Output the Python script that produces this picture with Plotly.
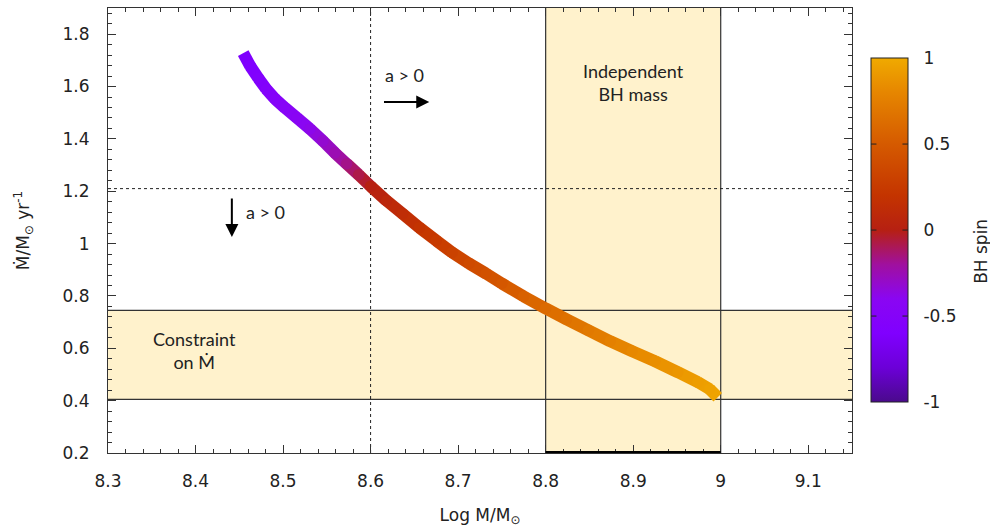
import plotly.graph_objects as go
from plotly.colors import sample_colorscale

# Curve
log_mass = [8.4545, 8.4625, 8.4716, 8.4807, 8.4909, 8.5023, 8.5159, 8.5307, 8.5455, 8.5591,
            8.5727, 8.5864, 8.6000, 8.6182, 8.6364, 8.6557, 8.6750, 8.6932, 8.7125, 8.7318,
            8.7500, 8.7750, 8.8000, 8.8239, 8.8489, 8.8739, 8.8989, 8.9250, 8.9511, 8.9739,
            8.9875, 8.9966]
mdot = [1.7276, 1.6781, 1.6324, 1.5905, 1.5524, 1.5181, 1.4800, 1.4381, 1.3924, 1.3467,
        1.3048, 1.2629, 1.2190, 1.1638, 1.1143, 1.0610, 1.0114, 0.9657, 0.9238, 0.8857,
        0.8476, 0.7981, 0.7524, 0.7105, 0.6686, 0.6267, 0.5886, 0.5505, 0.5086, 0.4705,
        0.4438, 0.4133]
spin = [-0.62, -0.60, -0.57, -0.54, -0.51, -0.47, -0.43, -0.38, -0.32, -0.25,
        -0.17, -0.08, 0.00, 0.07, 0.13, 0.19, 0.25, 0.31, 0.37, 0.43,
        0.48, 0.55, 0.61, 0.66, 0.71, 0.76, 0.81, 0.85, 0.89, 0.93,
        0.95, 0.97]

# Constraint regions and reference lines
mdot_band = [0.405, 0.745]
mass_band = [8.8, 9.0]
mass_ref = 8.6
mdot_ref = 1.21

x_range = [8.3, 9.15]
y_range = [0.2, 1.9]
x_ticks = [8.3, 8.4, 8.5, 8.6, 8.7, 8.8, 8.9, 9.0, 9.1]
x_tick_labels = ["8.3", "8.4", "8.5", "8.6", "8.7", "8.8", "8.9", "9", "9.1"]
y_ticks = [0.2, 0.4, 0.6, 0.8, 1.0, 1.2, 1.4, 1.6, 1.8]
y_tick_labels = ["0.2", "0.4", "0.6", "0.8", "1", "1.2", "1.4", "1.6", "1.8"]
cb_ticks = [-1, -0.5, 0, 0.5, 1]
cb_tick_labels = ["-1", "-0.5", "0", "0.5", "1"]
cb_range = [-1, 1]

colorscale = [
    [0.0, "#4a0a8c"],
    [0.1, "#6c00d8"],
    [0.2, "#8000ff"],
    [0.3, "#8a06f2"],
    [0.4, "#a0109e"],
    [0.5, "#b62012"],
    [0.6, "#c43400"],
    [0.75, "#d55a00"],
    [0.9, "#e68600"],
    [1.0, "#f0aa00"],
]

BAND = "#fff2cc"
EDGE = "#333333"
TXT = "#222222"
TICKFONT = dict(family="DejaVu Sans", size=17, color=TXT)
NOTEFONT = dict(family="Lato", size=18, color=TXT)
WIDTH = 12

# colorbar geometry (paper fractions)
CB_X0 = 1.0255
CB_THICK_PX = 37
PLOT_W = 990 - 108 - 138
CB_X1 = CB_X0 + CB_THICK_PX / PLOT_W
CB_LEN = 0.773
CB_YC = 0.501

fig = go.Figure()

for i in range(len(log_mass) - 1):
    s = (spin[i] + spin[i + 1]) / 2
    c = sample_colorscale(colorscale, [(s - cb_range[0]) / (cb_range[1] - cb_range[0])])[0]
    fig.add_trace(go.Scatter(
        x=[log_mass[i], log_mass[i + 1]], y=[mdot[i], mdot[i + 1]],
        mode="lines", line=dict(color=c, width=WIDTH),
        hoverinfo="skip", showlegend=False,
    ))

fig.add_trace(go.Scatter(
    x=log_mass[1:-1], y=mdot[1:-1], mode="markers",
    marker=dict(size=WIDTH - 0.5, color=spin[1:-1], colorscale=colorscale,
                cmin=cb_range[0], cmax=cb_range[1],
                line=dict(width=0),
                showscale=True,
                colorbar=dict(
                    x=CB_X0, xanchor="left", xpad=0, y=CB_YC, yanchor="middle",
                    len=CB_LEN + 20 / 445, lenmode="fraction", thickness=CB_THICK_PX,
                    outlinewidth=1, outlinecolor=TXT,
                    tickvals=cb_ticks, ticktext=cb_tick_labels,
                    ticks="outside", ticklen=12, tickcolor="rgba(0,0,0,0)",
                    tickfont=dict(family="DejaVu Sans", size=17, color=TXT),
                )),
    hoverinfo="skip", showlegend=False,
))

shapes = [
    dict(type="rect", xref="x", yref="y", x0=x_range[0], x1=x_range[1],
         y0=mdot_band[0], y1=mdot_band[1], fillcolor=BAND, line=dict(width=0), layer="below"),
    dict(type="rect", xref="x", yref="y", x0=mass_band[0], x1=mass_band[1],
         y0=y_range[0], y1=y_range[1], fillcolor=BAND, line=dict(width=0), layer="below"),
    dict(type="line", xref="x", yref="y", x0=x_range[0], x1=x_range[1],
         y0=mdot_band[0], y1=mdot_band[0], line=dict(color=EDGE, width=1.2), layer="below"),
    dict(type="line", xref="x", yref="y", x0=x_range[0], x1=x_range[1],
         y0=mdot_band[1], y1=mdot_band[1], line=dict(color=EDGE, width=1.2), layer="below"),
    dict(type="line", xref="x", yref="y", x0=mass_band[0], x1=mass_band[0],
         y0=y_range[0], y1=y_range[1], line=dict(color=EDGE, width=1.2), layer="below"),
    dict(type="line", xref="x", yref="y", x0=mass_band[1], x1=mass_band[1],
         y0=y_range[0], y1=y_range[1], line=dict(color=EDGE, width=1.2), layer="below"),
    dict(type="line", xref="x", yref="y", x0=mass_ref, x1=mass_ref,
         y0=y_range[0], y1=y_range[1], line=dict(color=TXT, width=1, dash="3px,3px"), layer="below"),
    dict(type="line", xref="x", yref="y", x0=x_range[0], x1=x_range[1],
         y0=mdot_ref, y1=mdot_ref, line=dict(color=TXT, width=1, dash="3px,3px"), layer="below"),
    dict(type="line", xref="x", yref="y", x0=mass_band[0], x1=mass_band[1],
         y0=y_range[0], y1=y_range[0], line=dict(color="#000000", width=4), layer="above"),
]

annotations = [
    dict(x=8.9, y=1.615, xref="x", yref="y", text="Independent<br>BH mass",
         showarrow=False, font=NOTEFONT, align="center"),
    dict(x=8.399, y=0.59, xref="x", yref="y", text="Constraint<br>on M\u0307",
         showarrow=False, font=NOTEFONT, align="center"),
    dict(x=8.6386, y=1.645, xref="x", yref="y", text="a > 0",
         showarrow=False, font=NOTEFONT),
    dict(x=8.667, y=1.541, ax=8.6136, ay=1.541, xref="x", yref="y", axref="x", ayref="y",
         text="", showarrow=True, arrowhead=2, arrowsize=1.3, arrowwidth=2, arrowcolor="#000000"),
    dict(x=8.48, y=1.12, xref="x", yref="y", text="a > 0",
         showarrow=False, font=NOTEFONT),
    dict(x=8.4415, y=1.025, ax=8.4415, ay=1.178, xref="x", yref="y", axref="x", ayref="y",
         text="", showarrow=True, arrowhead=2, arrowsize=1.3, arrowwidth=2, arrowcolor="#000000"),
    dict(x=1.1734, y=0.452, xref="paper", yref="paper", text="BH spin", textangle=-90,
         xanchor="center", yanchor="middle",
         showarrow=False, font=dict(family="DejaVu Sans", size=17, color=TXT)),
]

# inward tick dashes on both edges of the colour bar (drawn above it)
for v in cb_ticks[1:-1]:
    yp = CB_YC - CB_LEN / 2 + CB_LEN * (v - cb_range[0]) / (cb_range[1] - cb_range[0])
    annotations.append(dict(x=CB_X0, y=yp, xref="paper", yref="paper", ax=7, ay=0,
                            axref="pixel", ayref="pixel", text="", showarrow=True,
                            arrowhead=0, arrowwidth=1, arrowcolor=TXT, standoff=0, startstandoff=0))
    annotations.append(dict(x=CB_X1, y=yp, xref="paper", yref="paper", ax=-7, ay=0,
                            axref="pixel", ayref="pixel", text="", showarrow=True,
                            arrowhead=0, arrowwidth=1, arrowcolor=TXT, standoff=0, startstandoff=0))

fig.update_layout(
    width=990, height=532,
    margin=dict(l=108, r=138, t=8, b=79),
    paper_bgcolor="white", plot_bgcolor="white",
    shapes=shapes, annotations=annotations,
    showlegend=False,
    xaxis=dict(
        range=x_range, tickvals=x_ticks, ticktext=x_tick_labels,
        ticks="inside", ticklen=8, tickcolor="#333333", tickwidth=1,
        minor=dict(dtick=0.02, tick0=8.3, ticks="inside", ticklen=4, tickcolor="#333333"),
        showline=True, linecolor="#333333", linewidth=1, mirror="ticks",
        showgrid=False, zeroline=False, tickfont=TICKFONT, ticklabelstandoff=13,
        title=dict(text="Log M/M<sub>\u2299</sub>", font=dict(family="DejaVu Sans", size=17, color=TXT),
                   standoff=18),
    ),
    yaxis=dict(
        range=y_range, tickvals=y_ticks, ticktext=y_tick_labels,
        ticks="inside", ticklen=8, tickcolor="#333333", tickwidth=1,
        minor=dict(dtick=0.04, tick0=0.2, ticks="inside", ticklen=4, tickcolor="#333333"),
        showline=True, linecolor="#333333", linewidth=1, mirror="ticks",
        showgrid=False, zeroline=False, tickfont=TICKFONT, ticklabelstandoff=14,
        title=dict(text="M\u0307/M<sub>\u2299</sub> yr<sup>-1</sup>",
                   font=dict(family="DejaVu Sans", size=17, color=TXT), standoff=28),
    ),
)

fig.write_html("out.html")
